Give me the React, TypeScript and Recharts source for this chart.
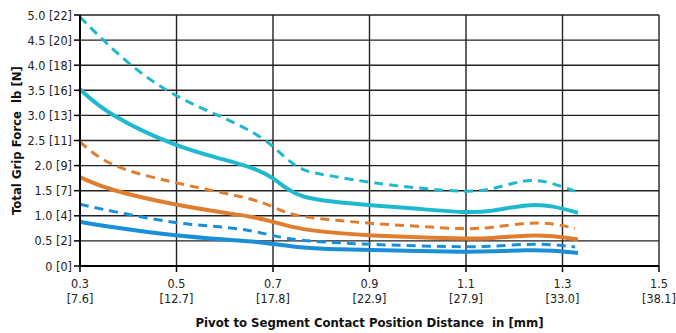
import React from "react";
import { LineChart, Line, XAxis, YAxis, CartesianGrid, Label } from "recharts";

// x in inches, y in lb
const cyanDashedX = [0.3, 0.4, 0.5, 0.6, 0.68, 0.72, 0.76, 0.82, 0.9, 1.0, 1.1, 1.15, 1.2, 1.24, 1.28, 1.326];
const cyanDashedY = [4.96, 4.0, 3.35, 2.95, 2.57, 2.2, 1.88, 1.8, 1.66, 1.55, 1.47, 1.52, 1.66, 1.73, 1.65, 1.49];

const cyanSolidX = [0.3, 0.36, 0.5, 0.6, 0.67, 0.7, 0.73, 0.76, 0.82, 0.9, 1.0, 1.1, 1.15, 1.23, 1.28, 1.332];
const cyanSolidY = [3.52, 3.0, 2.37, 2.12, 1.92, 1.76, 1.52, 1.37, 1.28, 1.21, 1.14, 1.06, 1.08, 1.24, 1.2, 1.06];

const orangeDashedX = [0.3, 0.36, 0.5, 0.6, 0.66, 0.7, 0.73, 0.76, 0.84, 0.9, 1.0, 1.1, 1.15, 1.23, 1.28, 1.326];
const orangeDashedY = [2.47, 1.97, 1.65, 1.45, 1.33, 1.18, 1.05, 0.98, 0.9, 0.85, 0.79, 0.73, 0.76, 0.87, 0.85, 0.75];

const orangeSolidX = [0.3, 0.36, 0.5, 0.6, 0.66, 0.7, 0.76, 0.84, 0.9, 1.0, 1.1, 1.15, 1.23, 1.28, 1.332];
const orangeSolidY = [1.77, 1.51, 1.21, 1.06, 0.98, 0.88, 0.72, 0.65, 0.61, 0.57, 0.54, 0.55, 0.62, 0.6, 0.53];

const blueDashedX = [0.3, 0.36, 0.5, 0.6, 0.66, 0.7, 0.76, 0.84, 0.9, 1.0, 1.1, 1.15, 1.23, 1.28, 1.326];
const blueDashedY = [1.23, 1.1, 0.84, 0.78, 0.7, 0.6, 0.5, 0.46, 0.43, 0.4, 0.38, 0.39, 0.44, 0.43, 0.38];

const blueSolidX = [0.3, 0.36, 0.5, 0.6, 0.66, 0.7, 0.76, 0.84, 0.9, 1.0, 1.1, 1.15, 1.23, 1.28, 1.332];
const blueSolidY = [0.88, 0.78, 0.6, 0.53, 0.49, 0.44, 0.36, 0.33, 0.32, 0.3, 0.28, 0.29, 0.32, 0.31, 0.26];

const xTicks = [0.3, 0.5, 0.7, 0.9, 1.1, 1.3, 1.5];
const xTickMm = ["[7.6]", "[12.7]", "[17.8]", "[22.9]", "[27.9]", "[33.0]", "[38.1]"];
const yTicks = [0, 0.5, 1, 1.5, 2, 2.5, 3, 3.5, 4, 4.5, 5];
const yTickN = ["[0]", "[2]", "[4]", "[7]", "[9]", "[11]", "[13]", "[16]", "[18]", "[20]", "[22]"];

const CYAN = "#1fb9cf";
const ORANGE = "#e07d2e";
const BLUE = "#1a8fd9";
const FONT = "'DejaVu Sans Condensed', 'Liberation Sans Narrow', sans-serif";

const zip = (xs: number[], ys: number[]) => xs.map((x, i) => ({ x, y: ys[i] }));

const series = [
  { key: "cd", data: zip(cyanDashedX, cyanDashedY), color: CYAN, dashed: true },
  { key: "cs", data: zip(cyanSolidX, cyanSolidY), color: CYAN, dashed: false },
  { key: "od", data: zip(orangeDashedX, orangeDashedY), color: ORANGE, dashed: true },
  { key: "os", data: zip(orangeSolidX, orangeSolidY), color: ORANGE, dashed: false },
  { key: "bd", data: zip(blueDashedX, blueDashedY), color: BLUE, dashed: true },
  { key: "bs", data: zip(blueSolidX, blueSolidY), color: BLUE, dashed: false },
];

const XTick = (props: any) => {
  const { x, y, payload } = props;
  const i = xTicks.findIndex((t) => Math.abs(t - payload.value) < 1e-6);
  return (
    <g>
      <line x1={x} x2={x} y1={y - 8} y2={y - 2} stroke="#000" strokeWidth={1.5} />
      <text x={x} y={y + 14} textAnchor="middle" fontFamily={FONT} fontSize={12.5} fill="#222">
        {payload.value.toFixed(1)}
      </text>
      <text x={x} y={y + 29} textAnchor="middle" fontFamily={FONT} fontSize={12.5} fill="#222">
        {xTickMm[i]}
      </text>
    </g>
  );
};

const YTick = (props: any) => {
  const { x, y, payload } = props;
  const i = yTicks.findIndex((t) => Math.abs(t - payload.value) < 1e-6);
  const v = payload.value === 0 ? "0" : payload.value.toFixed(1);
  return (
    <g>
      <line x1={x + 2} x2={x + 8} y1={y} y2={y} stroke="#000" strokeWidth={1.5} />
      <text x={x} y={y + 4.5} textAnchor="end" fontFamily={FONT} fontSize={12.5} fill="#222">
        {`${v} ${yTickN[i]}`}
      </text>
    </g>
  );
};

export default function App() {
  return (
    <div style={{ position: "absolute", left: 0, top: 0, width: 676, height: 333, background: "#fff" }}>
      <LineChart width={676} height={333} margin={{ top: 15, right: 17, left: 10, bottom: 20 }}>
        <CartesianGrid stroke="#222" strokeWidth={1.4} />
        <XAxis
          dataKey="x"
          type="number"
          domain={[0.3, 1.5]}
          ticks={xTicks}
          tick={<XTick />}
          tickLine={false}
          axisLine={{ stroke: "#000", strokeWidth: 2 }}
          height={47}
          allowDuplicatedCategory={false}
        >
          <Label
            value={"Pivot to Segment Contact Position Distance\u00a0\u00a0in [mm]"}
            position="insideBottom"
            offset={-14}
            style={{ fontFamily: FONT, fontSize: 13, fontWeight: "bold", fill: "#111" }}
          />
        </XAxis>
        <YAxis
          type="number"
          domain={[0, 5]}
          ticks={yTicks}
          tick={<YTick />}
          tickLine={false}
          axisLine={{ stroke: "#000", strokeWidth: 2 }}
          width={70}
        >
          <Label
            value={"Total Grip Force\u00a0\u00a0lb [N]"}
            angle={-90}
            position="insideLeft"
            offset={6}
            style={{ fontFamily: FONT, fontSize: 13, fontWeight: "bold", fill: "#111", textAnchor: "middle" }}
          />
        </YAxis>
        {series.map((s) => (
          <Line
            key={s.key}
            data={s.data}
            dataKey="y"
            type="basis"
            stroke={s.color}
            strokeWidth={s.dashed ? 3 : 4}
            strokeDasharray={s.dashed ? "9 6" : undefined}
            dot={false}
            activeDot={false}
            isAnimationActive={false}
          />
        ))}
      </LineChart>
    </div>
  );
}
